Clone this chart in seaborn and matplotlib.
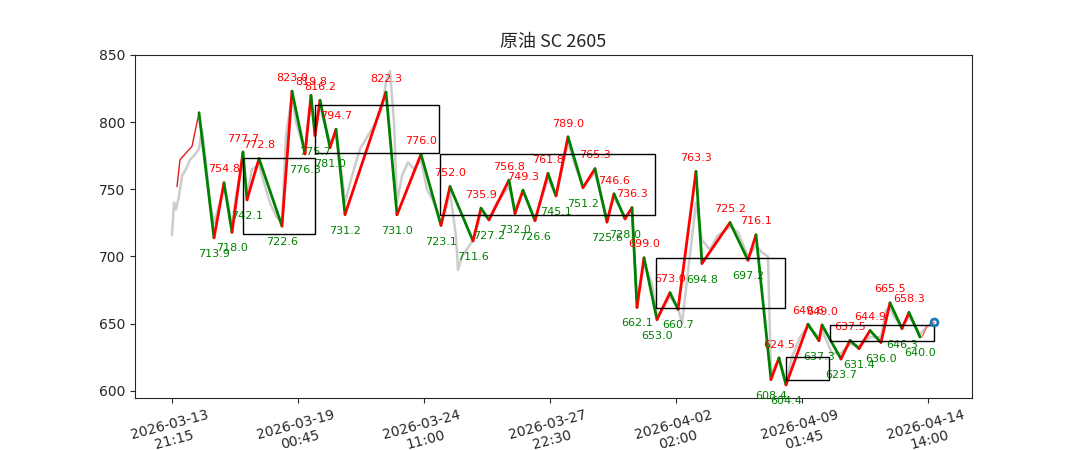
import matplotlib
matplotlib.use("Agg")
import matplotlib.pyplot as plt
import seaborn as sns
import pandas as pd
from matplotlib.patches import Rectangle

sns.set_style("ticks")
plt.rcParams['font.family'] = ['DejaVu Sans', 'Noto Sans CJK SC']

tick_pos = [0, 126, 252, 378, 504, 630, 756]
tick_labels = ["2026-03-13\n21:15", "2026-03-19\n00:45", "2026-03-24\n11:00", "2026-03-27\n22:30",
               "2026-04-02\n02:00", "2026-04-09\n01:45", "2026-04-14\n14:00"]

piv_x = [27, 42, 52, 60, 71, 75, 87, 110, 120, 133, 139, 143, 148, 158, 164, 173, 214, 225, 249, 269,
         278, 301, 309, 317, 337, 343, 351, 363, 376, 384, 396, 411, 423, 435, 442, 453, 460, 465, 472,
         485, 498, 506, 524, 530, 558, 576, 584, 599, 607, 614, 636, 647, 650, 669, 678, 687, 698, 709,
         718, 730, 737, 748]
piv_y = [807, 713.9, 754.8, 718.0, 777.7, 742.1, 772.8, 722.6, 823.0, 776.3, 819.8, 790, 816.2, 781.0,
         794.7, 731.2, 822.3, 731.0, 776.0, 723.1, 752.0, 711.6, 735.9, 727.2, 756.8, 732.0, 749.3,
         726.6, 761.8, 745.1, 789.0, 751.2, 765.3, 725.6, 746.6, 728.0, 736.3, 662.1, 699.0, 653.0,
         673.0, 660.7, 763.3, 694.8, 725.2, 697.2, 716.1, 608.4, 624.5, 604.4, 649.6, 637.3, 649.0,
         623.7, 637.5, 631.4, 644.9, 636.0, 665.5, 646.3, 658.3, 640.0]
piv_lbl = ["", "713.9", "754.8", "718.0", "777.7", "742.1", "772.8", "722.6", "823.0", "776.3", "819.8",
           "775.7", "816.2", "781.0", "794.7", "731.2", "822.3", "731.0", "776.0", "723.1", "752.0",
           "711.6", "735.9", "727.2", "756.8", "732.0", "749.3", "726.6", "761.8", "745.1", "789.0",
           "751.2", "765.3", "725.6", "746.6", "728.0", "736.3", "662.1", "699.0", "653.0", "673.0",
           "660.7", "763.3", "694.8", "725.2", "697.2", "716.1", "608.4", "624.5", "604.4", "649.6",
           "637.3", "649.0", "623.7", "637.5", "631.4", "644.9", "636.0", "665.5", "646.3", "658.3",
           "640.0"]

gray_x = [0, 2, 4, 7, 10, 14, 18, 22, 27, 30, 34, 38, 42, 46, 52, 56, 60, 64, 71, 75, 80, 87, 92, 98,
          104, 110, 114, 118, 120, 124, 128, 133, 136, 139, 143, 148, 152, 158, 164, 170, 173, 180, 188,
          196, 204, 210, 214, 218, 222, 225, 230, 236, 242, 249, 255, 262, 269, 274, 278, 284, 286, 290,
          301, 309, 317, 325, 337, 343, 351, 363, 376, 384, 396, 402, 411, 423, 435, 442, 453, 460, 465,
          472, 480, 485, 498, 506, 510, 524, 530, 538, 545, 558, 566, 576, 584, 590, 596, 599, 604, 607,
          614, 620, 628, 636, 647, 650, 660, 669, 678, 687, 698, 709, 714, 718, 722, 730, 737, 742, 748,
          755, 762]
gray_y = [716, 740, 735, 745, 760, 765, 772, 775, 780, 795, 770, 740, 725, 735, 752, 740, 722, 745, 770,
          745, 765, 768, 755, 740, 730, 725, 790, 810, 820, 800, 790, 778, 800, 815, 795, 812, 800, 785,
          790, 760, 740, 760, 780, 790, 800, 810, 830, 838, 800, 740, 760, 770, 765, 772, 750, 740, 725,
          735, 748, 715, 690, 700, 712, 732, 728, 740, 752, 735, 748, 728, 758, 745, 785, 770, 752, 762,
          728, 744, 730, 734, 665, 695, 680, 655, 670, 662, 650, 740, 712, 705, 715, 722, 718, 700, 708,
          703, 700, 612, 620, 622, 606, 625, 640, 648, 640, 645, 628, 628, 635, 633, 640, 640, 660, 662,
          655, 648, 655, 650, 642, 648, 650]

sub_x = [5, 8, 14, 20, 27, 750, 755, 762]
sub_y = [752, 772, 777, 782, 807, 640, 648, 651]

boxes_x0 = [71, 143, 268, 484, 614, 658]
boxes_x1 = [143, 267, 483, 613, 657, 762]
boxes_y0 = [717, 777, 731, 662, 608, 637]
boxes_y1 = [773, 813, 776, 699, 625, 649]

fig = plt.figure(figsize=(10.8, 4.5), dpi=100)
ax = fig.add_axes([0.125, 0.116, 0.775, 0.762])

sns.lineplot(data=pd.DataFrame({"x": gray_x, "y": gray_y}), x="x", y="y", ax=ax,
             color="#cccccc", lw=1.8, sort=False)

ax.plot(sub_x[:5], sub_y[:5], color="#e31a1c", lw=1)
ax.plot(sub_x[5:], sub_y[5:], color="#ff6060", lw=1)

for i in range(len(piv_x) - 1):
    up = piv_y[i + 1] > piv_y[i]
    ax.plot(piv_x[i:i + 2], piv_y[i:i + 2], color="#ff0000" if up else "#008000", lw=2, zorder=3,
            solid_capstyle="round")

for i in range(len(piv_x)):
    if not piv_lbl[i]:
        continue
    high = i > 0 and piv_y[i] > piv_y[i - 1]
    ax.annotate(piv_lbl[i], (piv_x[i], piv_y[i]), xytext=(0, 6 if high else -8),
                textcoords="offset points", ha="center", va="bottom" if high else "top",
                fontsize=8, color="#ff0000" if high else "#008000", zorder=4)

for x0, x1, y0, y1 in zip(boxes_x0, boxes_x1, boxes_y0, boxes_y1):
    ax.add_patch(Rectangle((x0, y0), x1 - x0, y1 - y0, fill=False, ec="black", lw=1, zorder=5))

ax.plot([sub_x[-1]], [sub_y[-1]], marker="o", ms=5, mfc="none", mec="#1f77b4", mew=2, zorder=6)

ax.set_xlim(-37, 800)
ax.set_ylim(594.8, 850)
ax.set_yticks([600, 650, 700, 750, 800, 850])
ax.set_xticks(tick_pos)
ax.set_xticklabels(tick_labels, rotation=15, fontsize=10)
ax.tick_params(axis="y", labelsize=10)
ax.set_xlabel("")
ax.set_ylabel("")
ax.set_title("原油 SC 2605", fontsize=13, family=["Noto Sans CJK SC", "DejaVu Sans"])
fig.savefig("out.png", dpi=100)
